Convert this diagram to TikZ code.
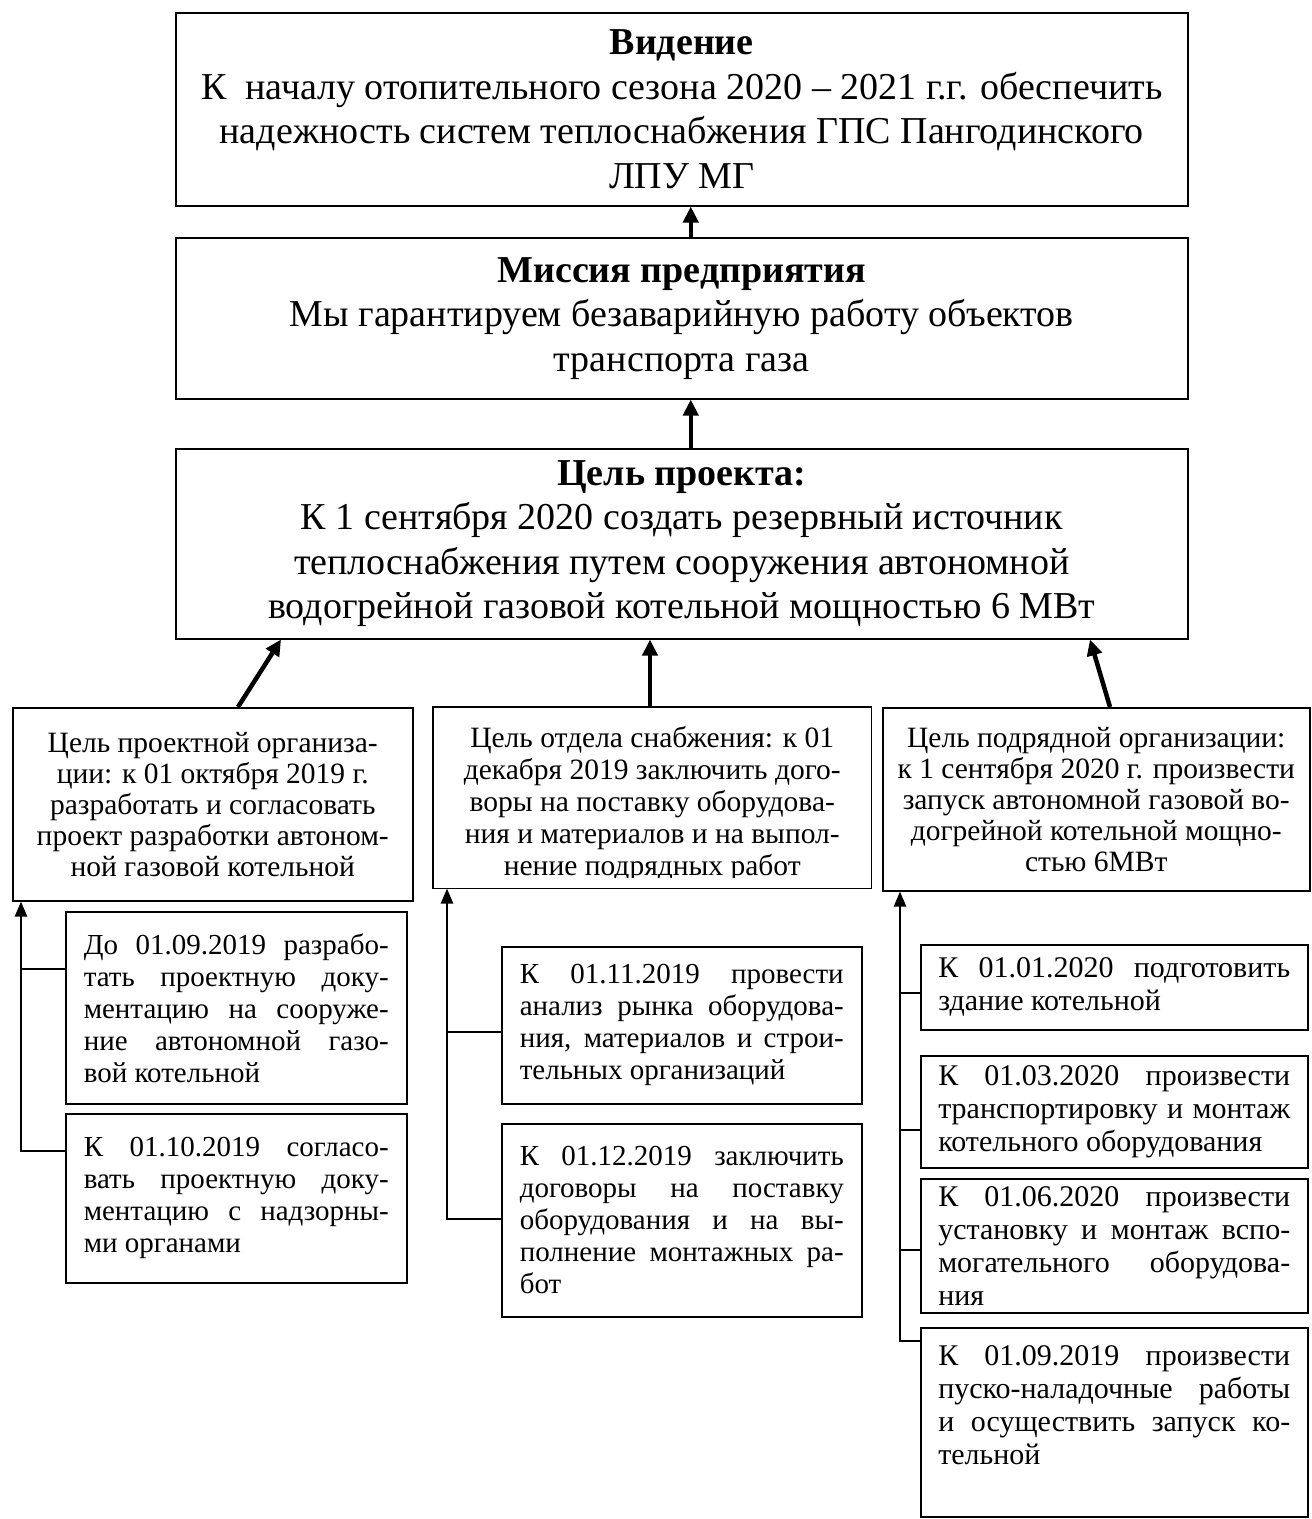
\documentclass[tikz,border=0pt]{standalone}
\usepackage{fontspec}
\setmainfont{Liberation Serif}
\usetikzlibrary{arrows.meta,calc}
\newcommand{\fBig}{\fontsize{38}{44.5}\selectfont}
\newcommand{\fMid}{\fontsize{29.5}{31}\selectfont}
\newcommand{\fMidb}{\fontsize{29.5}{32}\selectfont}
\newcommand{\fSm}{\fontsize{29}{32}\selectfont}
\newcommand{\fSmr}{\fontsize{30}{33}\selectfont}
\newcommand{\jline}[1]{\makebox[\linewidth][s]{#1}\\}
\begin{document}
\begin{tikzpicture}[x=1pt,y=-1pt,
  bx/.style={draw, line width=1.5pt, rectangle, inner sep=0pt, anchor=north west},
  big/.style={line width=4.5pt, -{Triangle[length=16pt,width=15pt]}},
  conn/.style={line width=2.5pt, -{Triangle[length=15pt,width=12pt]}},
  connl/.style={line width=2.5pt},
]
\useasboundingbox[fill=white] (0,0) rectangle (1312,1519);

% top level
\node[bx, minimum width=1012, minimum height=193] (vis) at (175,12)
 {\parbox{1000pt}{\centering\fBig\textbf{Видение}\\К\ \ началу отопительного сезона 2020 – 2021 г.г. обеспечить\\надежность систем теплоснабжения ГПС Пангодинского\\ЛПУ МГ}};
\node[bx, minimum width=1012, minimum height=161] (mis) at (175,237)
 {\parbox{1000pt}{\centering\fBig\textbf{Миссия предприятия}\\Мы гарантируем безаварийную работу объектов\\транспорта газа}};
\node[bx, minimum width=1012, minimum height=190] (goal) at (175,448)
 {\parbox{1000pt}{\centering\fBig\textbf{Цель проекта:}\\К 1 сентября 2020 создать резервный источник\\теплоснабжения путем сооружения автономной\\водогрейной газовой котельной мощностью 6 МВт}};

% level 3
\node[bx, minimum width=400, minimum height=193] (l3a) at (12,707)
 {\parbox{390pt}{\centering\fMid Цель проектной организа-\\ции: к 01 октября 2019 г.\\разработать и согласовать\\проект разработки автоном-\\ной газовой котельной}};
\begin{scope}
\clip (433,707) rectangle (870,877);
\node[bx, draw=none, minimum width=437, minimum height=180] (l3b) at (433,707)
 {\parbox[c][180pt][t]{425pt}{\fMidb\centering\vspace*{19pt}Цель отдела снабжения: к 01\\декабря 2019 заключить дого-\\воры на поставку оборудова-\\ния и материалов и на выпол-\\нение подрядных работ}};
\end{scope}
\draw[line width=1.5pt] (l3b.south west) rectangle (l3b.north east);
\node[bx, minimum width=427, minimum height=183] (l3c) at (882,707)
 {\parbox{420pt}{\centering\fMid Цель подрядной организации:\\к 1 сентября 2020 г. произвести\\запуск автономной газовой во-\\догрейной котельной мощно-\\стью 6МВт}};

% left column
\node[bx, minimum width=341, minimum height=192] (l1) at (65,911)
 {\parbox{305pt}{\fSm\jline{До 01.09.2019 разрабо-}\jline{тать проектную доку-}\jline{ментацию на сооруже-}\jline{ние автономной газо-}вой котельной}};
\node[bx, minimum width=341, minimum height=169] (l2) at (65,1113)
 {\parbox{305pt}{\fSm\jline{К 01.10.2019 согласо-}\jline{вать проектную доку-}\jline{ментацию с надзорны-}ми органами}};

% middle column
\node[bx, minimum width=360, minimum height=157] (m1) at (501,946)
 {\parbox{324pt}{\fSm\jline{К 01.11.2019 провести}\jline{анализ рынка оборудова-}\jline{ния, материалов и строи-}тельных организаций}};
\node[bx, minimum width=360, minimum height=193] (m2) at (501,1123)
 {\parbox{324pt}{\fSm\jline{К 01.12.2019 заключить}\jline{договоры на поставку}\jline{оборудования и на вы-}\jline{полнение монтажных ра-}бот}};

% right column
\node[bx, minimum width=387, minimum height=85] (r1) at (920,944)
 {\parbox{352pt}{\fSmr\jline{К 01.01.2020 подготовить}здание котельной}};
\node[bx, minimum width=387, minimum height=112] (r2) at (920,1055)
 {\parbox{352pt}{\fSmr\jline{К 01.03.2020 произвести}\jline{транспортировку и монтаж}котельного оборудования}};
\node[bx, minimum width=387, minimum height=134] (r3) at (920,1178)
 {\parbox{352pt}{\fSmr\jline{К 01.06.2020 произвести}\jline{установку и монтаж вспо-}\jline{могательного оборудова-}ния}};
\node[bx, minimum width=387, minimum height=189] (r4) at (920,1327)
 {\parbox[c][189pt][t]{352pt}{\fSmr\vspace*{18pt}\jline{К 01.09.2019 произвести}\jline{пуско-наладочные работы}\jline{и осуществить запуск ко-}тельной}};

% main arrows
\draw[big] ([xshift=9pt]mis.north) -- ([xshift=9pt]vis.south);
\draw[big] ([xshift=9pt]goal.north) -- ([xshift=9pt]mis.south);
\draw[big] ([xshift=226pt]l3a.north west) -- ([xshift=106pt]goal.south west);
\draw[big] ([xshift=217pt]l3b.north west) -- ([xshift=475pt]goal.south west);
\draw[big] ([xshift=228pt]l3c.north west) -- ([xshift=915pt]goal.south west);

% left connectors
\coordinate (lt) at ([xshift=9pt]l3a.south west);
\coordinate (l1b) at ([yshift=-58pt]l1.north west);
\coordinate (l2b) at ([yshift=-38pt]l2.north west);
\draw[conn] (l2b) -| (lt);
\draw[connl] (l1b) -- (l1b -| lt);

% middle connectors
\coordinate (mt) at ([xshift=14pt]l3b.south west);
\coordinate (m1b) at ([yshift=-86pt]m1.north west);
\coordinate (m2b) at ([yshift=-96pt]m2.north west);
\draw[conn] (m2b) -| (mt);
\draw[connl] (m1b) -- (m1b -| mt);

% right connectors
\coordinate (rt) at ([xshift=18pt]l3c.south west);
\coordinate (r1b) at ([yshift=-49pt]r1.north west);
\coordinate (r2b) at ([yshift=-75pt]r2.north west);
\coordinate (r3b) at ([yshift=-72pt]r3.north west);
\coordinate (r4b) at ([yshift=-14pt]r4.north west);
\draw[conn] (r4b) -| (rt);
\draw[connl] (r1b) -- (r1b -| rt);
\draw[connl] (r2b) -- (r2b -| rt);
\draw[connl] (r3b) -- (r3b -| rt);
\end{tikzpicture}
\end{document}
